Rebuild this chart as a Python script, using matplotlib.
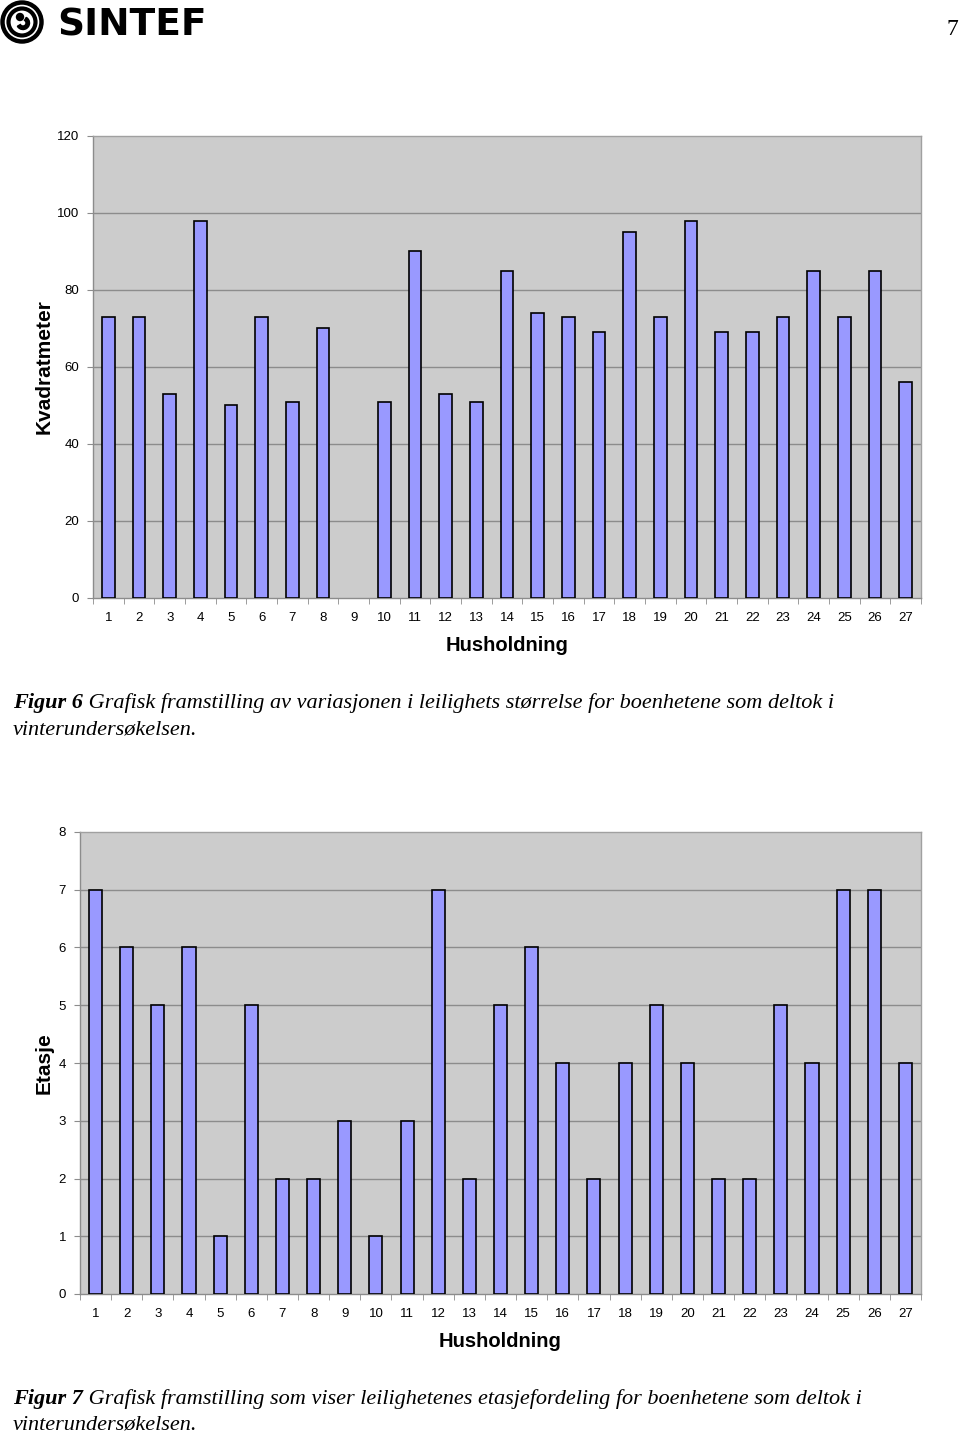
import matplotlib
matplotlib.use("Agg")
import matplotlib.pyplot as plt
from matplotlib.patches import Circle, Wedge
import numpy as np

households = list(range(1, 28))
area_m2 = [73, 73, 53, 98, 50, 73, 51, 70, 0, 51, 90, 53, 51, 85, 74, 73, 69, 95, 73, 98, 69, 69, 73, 85, 73, 85, 56]
floors = [7, 6, 5, 6, 1, 5, 2, 2, 3, 1, 3, 7, 2, 5, 6, 4, 2, 4, 5, 4, 2, 2, 5, 4, 7, 7, 4]

caption6_bold = "Figur 6"
caption6_rest = " Grafisk framstilling av variasjonen i leilighets størrelse for boenhetene som deltok i"
caption6_line2 = "vinterundersøkelsen."
caption7_bold = "Figur 7"
caption7_rest = " Grafisk framstilling som viser leilighetenes etasjefordeling for boenhetene som deltok i"
caption7_line2 = "vinterundersøkelsen."

W, H = 960, 1436
fig = plt.figure(figsize=(W / 100, H / 100), dpi=100)
fig.patch.set_facecolor("white")

def fx(px):
    return px / W

def fy(py):
    return 1 - py / H

BAR = "#9999ff"
BG = "#cccccc"
GRID = "#8c8c8c"

def make_chart(rect, values, yticks, ylabel, ylim):
    ax = fig.add_axes(rect)
    ax.set_facecolor(BG)
    x = np.arange(len(households))
    lws = [1.2 if v > 0 else 0 for v in values]
    ax.bar(x, values, width=0.42, color=BAR, edgecolor="black", linewidth=lws, zorder=3)
    ax.set_xlim(-0.5, len(households) - 0.5)
    ax.set_ylim(*ylim)
    ax.set_yticks(yticks)
    ax.set_yticklabels([str(v) for v in yticks], fontsize=9.5, family="Liberation Sans")
    ax.set_xticks(x)
    ax.set_xticklabels([str(h) for h in households], fontsize=9.5, family="Liberation Sans")
    ax.set_xticks(np.arange(-0.5, len(households) + 0.5, 1), minor=True)
    ax.tick_params(axis="x", which="major", length=0, pad=10)
    ax.tick_params(axis="x", which="minor", length=4, color=GRID, direction="out")
    ax.tick_params(axis="y", which="major", length=4, color=GRID, direction="out", pad=6)
    for y in yticks[1:-1]:
        ax.axhline(y, color=GRID, linewidth=1.0, zorder=1)
    for s in ax.spines.values():
        s.set_color("#a0a0a0")
        s.set_linewidth(1.0)
    ax.spines["left"].set_color(GRID)
    ax.spines["bottom"].set_color(GRID)
    ax.set_xlabel("Husholdning", fontsize=14.5, fontweight="bold", family="Liberation Sans", labelpad=9)
    ax.set_ylabel(ylabel, fontsize=15, fontweight="bold", family="Liberation Sans")
    return ax

ax1 = make_chart([fx(93), fy(598), fx(921) - fx(93), (598 - 136) / H],
                 area_m2, [0, 20, 40, 60, 80, 100, 120], "Kvadratmeter", (0, 120))
ax2 = make_chart([fx(80), fy(1294), fx(921) - fx(80), (1294 - 832) / H],
                 floors, [0, 1, 2, 3, 4, 5, 6, 7, 8], "Etasje", (0, 8))
ax1.yaxis.set_label_coords(-(93 - 44) / (921 - 93), 0.5)
ax2.yaxis.set_label_coords(-(80 - 44) / (921 - 80), 0.5)
ax1.yaxis.label.set_va("center")
ax2.yaxis.label.set_va("center")

# Captions
renderer = fig.canvas.get_renderer()

def caption(y_px, bold, rest, line2):
    t = fig.text(fx(13), fy(y_px), bold, fontsize=16, fontstyle="italic", fontweight="bold",
                 family="Liberation Serif", va="baseline", ha="left")
    bb = t.get_window_extent(renderer=renderer)
    fig.text(bb.x1 / W, fy(y_px), rest, fontsize=16, fontstyle="italic",
             family="Liberation Serif", va="baseline", ha="left")
    fig.text(fx(13), fy(y_px + 26), line2, fontsize=16, fontstyle="italic",
             family="Liberation Serif", va="baseline", ha="left")

caption(708, caption6_bold, caption6_rest, caption6_line2)
caption(1404, caption7_bold, caption7_rest, caption7_line2)

# Header: logo and page number
lax = fig.add_axes([0, fy(46), fx(300), 46 / H])
lax.set_xlim(0, 300)
lax.set_ylim(46, 0)
lax.axis("off")
lax.add_patch(Circle((22, 22), 19.5, fill=False, lw=3.2, ec="black"))
lax.add_patch(Circle((22, 22), 13.5, fill=False, lw=3.0, ec="black"))
lax.add_patch(Wedge((23, 23), 6.5, -60, 150, width=3.5, color="black"))
lax.add_patch(Circle((20, 17), 3.5, color="black"))
lax.text(57, 25, "SINTEF", fontsize=27, fontweight="heavy", family="DejaVu Sans",
         va="center", ha="left", color="black")
fig.text(fx(958), fy(35), "7", fontsize=17, family="Liberation Serif", ha="right", va="baseline")

fig.savefig("out.png", dpi=100, facecolor="white")
